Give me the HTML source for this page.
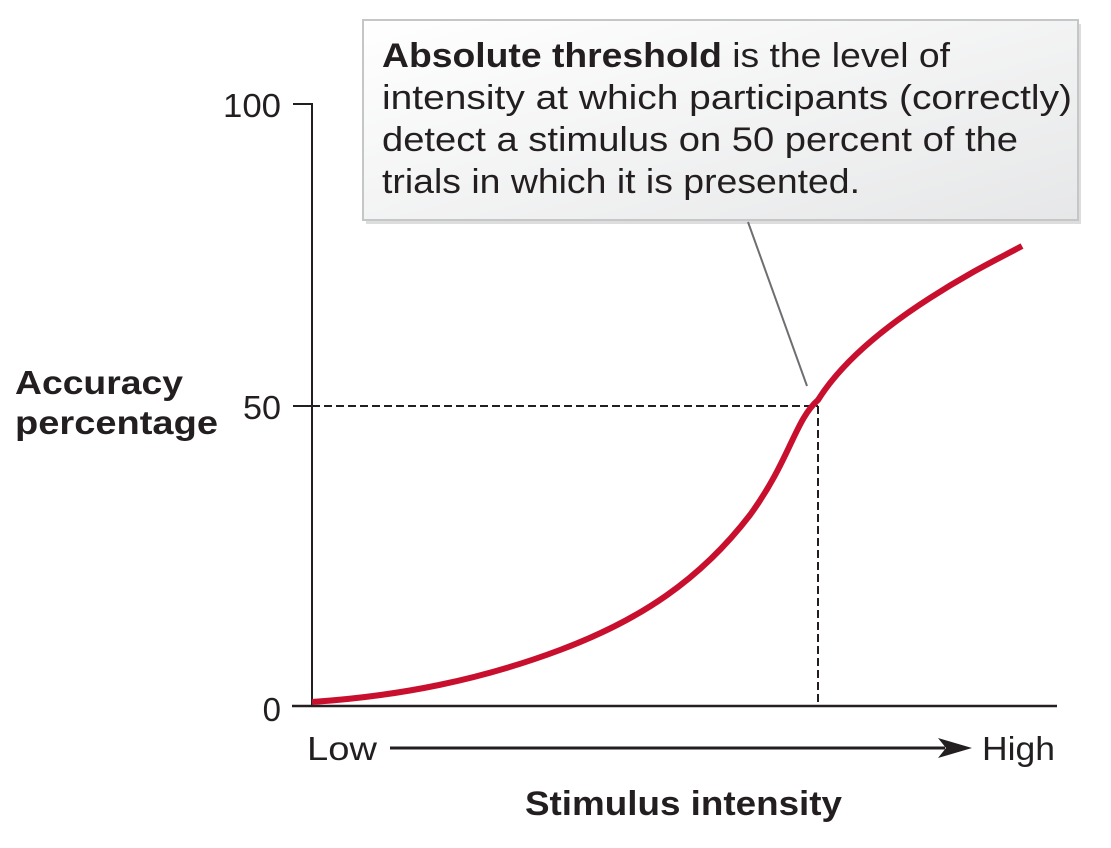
<!DOCTYPE html>
<html><head><meta charset="utf-8"><style>
html,body{margin:0;padding:0;background:#fff;}
svg{display:block;}
text{font-family:"Liberation Sans",Arial,sans-serif;fill:#231f20;}
</style></head><body>
<svg width="1111" height="848" viewBox="0 0 1111 848">
<defs>
<linearGradient id="g" x1="0" y1="0" x2="1" y2="1">
<stop offset="0" stop-color="#ffffff"/><stop offset="1" stop-color="#e6e7e8"/>
</linearGradient>
</defs>
<rect x="366" y="24" width="715" height="200" fill="#bbb" opacity="0.5"/>
<rect x="363" y="20" width="715" height="200" fill="url(#g)" stroke="#c4c6c8" stroke-width="2"/>
<text x="382" y="67" font-size="34" textLength="568" lengthAdjust="spacingAndGlyphs"><tspan font-weight="bold">Absolute threshold</tspan> is the level of</text>
<text x="382" y="109" font-size="34" textLength="690" lengthAdjust="spacingAndGlyphs">intensity at which participants (correctly)</text>
<text x="382" y="151" font-size="34" textLength="636" lengthAdjust="spacingAndGlyphs">detect a stimulus on 50 percent of the</text>
<text x="382" y="193" font-size="34" textLength="478" lengthAdjust="spacingAndGlyphs">trials in which it is presented.</text>
<line x1="748" y1="222" x2="807" y2="386" stroke="#6d6e71" stroke-width="2"/>
<polyline points="293,104 312,104 312,706" fill="none" stroke="#231f20" stroke-width="2"/>
<line x1="293" y1="406" x2="312" y2="406" stroke="#231f20" stroke-width="2"/>
<line x1="292" y1="706" x2="1057" y2="706" stroke="#231f20" stroke-width="2.5"/>
<line x1="312" y1="406" x2="818" y2="406" stroke="#231f20" stroke-width="2" stroke-dasharray="8,4"/>
<line x1="818" y1="406" x2="818" y2="706" stroke="#231f20" stroke-width="2" stroke-dasharray="8,4"/>
<path d="M312,702 C400,696 480,680 560,650 C640,620 700,580 750,515 C790,460 795,420 818,400 C840,365 880,330 930,298 C970,272 1000,258 1022,246" fill="none" stroke="#c8102e" stroke-width="6"/>
<text x="281" y="117" font-size="33" text-anchor="end" textLength="58" lengthAdjust="spacingAndGlyphs">100</text>
<text x="281" y="419" font-size="33" text-anchor="end" textLength="38" lengthAdjust="spacingAndGlyphs">50</text>
<text x="281" y="721" font-size="33" text-anchor="end">0</text>
<text x="15" y="394" font-size="33" font-weight="bold" textLength="168" lengthAdjust="spacingAndGlyphs">Accuracy</text>
<text x="15" y="434" font-size="33" font-weight="bold" textLength="203" lengthAdjust="spacingAndGlyphs">percentage</text>
<text x="307" y="760" font-size="33" textLength="70" lengthAdjust="spacingAndGlyphs">Low</text>
<line x1="390" y1="748" x2="945" y2="748" stroke="#231f20" stroke-width="3"/>
<polygon points="938,738 972,748 938,758 946,748" fill="#231f20"/>
<text x="982" y="760" font-size="33" textLength="73" lengthAdjust="spacingAndGlyphs">High</text>
<text x="525" y="815" font-size="34" font-weight="bold" textLength="317" lengthAdjust="spacingAndGlyphs">Stimulus intensity</text>
</svg>
</body></html>
